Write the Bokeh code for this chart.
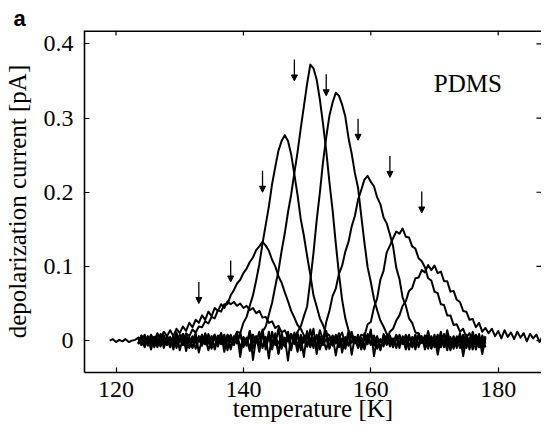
from bokeh.plotting import figure
from bokeh.models import (ColumnDataSource, FixedTicker, Label, Arrow, NormalHead)
from bokeh.embed import file_html
from bokeh.resources import INLINE

# ---------------- data ----------------
grid_temps = [123.5 + 0.5 * i for i in range(110)]      # 123.5 ... 178.0 K
lead_temps = [119.0 + 0.5 * i for i in range(9)]        # 119.0 ... 123.0 K (first run only)
tail_temps = [178.5 + 0.5 * i for i in range(20)]       # 178.5 ... 188.0 K (last run only)

lead_current = [.000, .002, -.002, .001, -.001, .002, -.002, .000, .001]

run_133 = [
    .004, -.005, .007, -.002, .008, .000, .010, .002, .012, .006,
    .014, .006, .016, .010, .019, .013, .024, .018, .028, .024,
    .034, .028, .039, .033, .044, .040, .049, .044, .053, .049,
    .052, .047, .050, .044, .047, .041, .044, .037, .040, .031,
    .032, .024, .026, .017, .020, .011, .014, .004, .009, .000,
    .004, -.006, .005, -.008, .003, -.010, .006, -.004, .002, -.012,
    .004, -.007, .008, -.005, .002, -.011, .006, -.003, .004, -.009,
    .003, -.012, .005, -.006, .007, -.010, .001, -.008, .006, -.004,
    .002, -.009, .008, -.005, .004, -.012, .005, -.007, .009, -.003,
    .003, -.011, .006, -.004, .008, -.009, .002, -.013, .005, -.006,
    .004, -.010, .007, -.008, .003, -.012, .006, -.005, .001, -.009,
]
run_138 = [
    -.004, .006, -.009, .003, -.012, .005, -.003, .008, -.010, .002,
    -.006, .004, -.002, .007, .001, .010, .006, .015, .011, .019,
    .018, .026, .023, .032, .030, .041, .039, .049, .049, .061,
    .068, .077, .082, .091, .097, .106, .112, .122, .127, .133,
    .128, .121, .109, .100, .087, .078, .065, .053, .040, .031,
    .021, .016, .007, .006, -.004, .003, -.008, .004, -.006, .002,
    -.010, .005, -.004, .007, -.009, .002, -.006, .008, -.003, .004,
    -.011, .006, -.002, .009, -.007, .003, -.012, .005, -.004, .007,
    -.008, .004, -.010, .006, -.003, .008, -.009, .002, -.005, .006,
    -.012, .003, -.006, .008, -.010, .004, -.003, .009, -.008, .001,
    -.007, .006, -.011, .003, -.005, .008, -.009, .002, -.004, .005,
]
run_143 = [
    .005, -.003, .006, -.007, .002, -.004, .008, -.002, .004, -.006,
    .003, -.012, .006, -.002, .009, -.014, .002, -.009, .005, -.001,
    .006, -.004, .003, -.008, .007, -.002, .005, -.007, .008, .004,
    .002, .012, .010, .024, .032, .047, .061, .081, .103, .131,
    .156, .181, .211, .234, .256, .269, .277, .269, .251, .224,
    .196, .164, .141, .114, .089, .061, .046, .030, .021, .010,
    .007, -.004, .006, -.009, .003, -.006, .008, -.002, .005, -.010,
    .004, -.007, .009, -.003, .006, -.011, .002, -.005, .007, -.008,
    .003, -.010, .006, -.004, .008, -.007, .001, -.012, .005, -.003,
    .007, -.006, .004, -.009, .002, -.004, .009, -.008, .003, -.011,
    .006, -.003, .008, -.010, .004, -.006, .002, -.009, .007, -.004,
]
run_148 = [
    -.003, .006, -.005, .004, -.008, .002, -.004, .007, -.002, .005,
    -.007, .003, -.004, .008, -.001, .005, -.009, .002, -.003, .006,
    -.005, .004, -.013, .002, .008, -.003, .010, -.015, .003, -.009,
    .005, -.002, .008, -.006, .004, -.010, .006, -.003, .003, .012,
    .019, .035, .051, .073, .094, .121, .145, .173, .197, .226,
    .254, .286, .316, .346, .372, .367, .352, .325, .292, .256,
    .214, .176, .131, .090, .055, .030, .014, .006, -.003, .005,
    -.008, .003, -.005, .009, -.002, .006, -.011, .004, -.006, .002,
    -.009, .007, -.003, .005, -.012, .003, -.004, .008, -.007, .001,
    -.005, .009, -.010, .004, -.002, .006, -.008, .003, -.011, .005,
    -.004, .007, -.021, .002, -.006, .012, -.003, .005, -.018, .004,
]
run_153 = [
    .004, -.006, .003, -.002, .007, -.005, .002, -.008, .006, -.003,
    .005, -.004, .011, -.013, .003, -.009, .004, -.002, .010, -.016,
    .002, -.005, .009, -.003, .004, -.008, .006, -.004, .007, -.002,
    -.006, .005, -.009, .003, -.004, .008, -.011, .004, -.006, .009,
    -.003, .006, -.012, .005, -.004, .007, -.008, .003, .006, .004,
    .012, .019, .033, .046, .081, .118, .162, .199, .241, .274,
    .303, .321, .334, .330, .318, .302, .273, .252, .226, .206,
    .168, .132, .099, .079, .056, .041, .027, .019, .009, .006,
    -.004, .008, -.006, .003, -.010, .005, -.002, .007, -.009, .004,
    -.006, .013, -.003, .005, -.019, .002, -.007, .014, -.004, .003,
    -.010, .006, -.002, .008, -.007, .004, -.012, .005, -.003, .006,
]
run_158 = [
    -.005, .004, -.008, .006, -.002, .005, -.009, .003, -.004, .007,
    -.003, .006, -.010, .004, -.006, .008, -.002, .005, -.011, .003,
    -.007, .009, -.004, .006, -.012, .002, -.005, .008, -.009, .004,
    -.003, .010, -.022, .005, -.006, .013, -.026, .004, -.008, .015,
    -.012, .006, -.004, .010, -.018, .003, -.007, .012, -.010, .005,
    -.015, .008, -.003, .011, -.009, .004, -.006, .014, .001, .025,
    .040, .060, .070, .090, .101, .120, .133, .154, .168, .190,
    .203, .217, .222, .214, .208, .193, .184, .166, .158, .143,
    .127, .098, .083, .058, .047, .030, .024, .011, .010, .001,
    -.006, .008, -.011, .005, -.004, .012, -.009, .003, -.013, .006,
    -.005, .010, -.008, .002, -.012, .007, -.004, .009, -.010, .003,
]
run_163 = [
    .003, -.006, .008, -.004, .005, -.009, .002, -.003, .007, -.005,
    .004, -.008, .006, -.002, .009, -.006, .003, -.010, .005, -.001,
    .008, -.005, .002, -.011, .006, -.003, .010, -.007, .004, -.012,
    .006, -.004, .011, -.009, .003, -.014, .008, -.002, .012, -.010,
    .005, -.024, .012, -.006, .016, -.011, .004, -.027, .009, -.005,
    .011, -.013, .006, -.008, .015, -.004, .008, -.012, .003, .010,
    -.009, .006, -.020, .004, .011, -.006, .013, -.019, .005, -.002,
    .008, .006, .022, .025, .045, .057, .082, .094, .119, .128,
    .138, .147, .144, .151, .140, .139, .127, .124, .111, .107,
    .099, .084, .081, .066, .064, .049, .048, .034, .034, .021,
    .022, .012, .016, .004, .010, -.002, .008, -.006, .004, -.009,
]
run_168 = [
    -.004, .007, -.002, .005, -.008, .003, -.005, .009, -.003, .002,
    -.009, .005, -.003, .007, -.006, .002, -.010, .006, -.001, .004,
    -.006, .010, -.004, .003, -.009, .007, -.002, .005, -.013, .008,
    -.005, .009, -.012, .004, -.007, .013, -.003, .006, -.015, .009,
    -.008, .012, -.004, .007, -.017, .010, -.006, .004, -.013, .011,
    -.007, .005, -.022, .013, -.002, .016, -.018, .006, -.005, .013,
    -.011, .007, -.003, .010, -.016, .005, -.007, .012, -.004, .008,
    -.012, .010, -.002, .015, -.021, .004, -.013, .009, .000, .012,
    .016, .027, .034, .047, .053, .067, .071, .084, .085, .095,
    .092, .102, .095, .101, .091, .093, .080, .080, .066, .067,
    .055, .052, .040, .039, .028, .029, .018, .024, .012, .017,
]
tail_current = [.010, .016, .006, .013, .003, .014, .005, .011, .002, .012,
                .004, .010, -.001, .009, .003, .008, -.002, .007, .001, .005]

arrow_temps = [133, 138, 143, 148, 153, 158, 163, 168]
arrow_tips = [0.050, 0.079, 0.200, 0.350, 0.330, 0.270, 0.220, 0.172]

x_ticks = [120, 140, 160, 180]
y_ticks = [0, 0.1, 0.2, 0.3, 0.4]

# ---------------- figure ----------------
SERIF = "Liberation Serif"

p = figure(width=541, height=424, x_range=(115.05, 186.8), y_range=(-0.043, 0.418),
           output_backend="svg", toolbar_location=None, title="a",
           min_border_left=83, min_border_right=0, min_border_top=30, min_border_bottom=0)
p.title.text_font = "Liberation Sans"
p.title.text_font_style = "bold"
p.title.text_font_size = "22px"
p.title.text_color = "black"
p.title.align = "left"
p.title.offset = -71
p.title.standoff = 0

p.outline_line_color = None
p.xgrid.visible = False
p.ygrid.visible = False
p.background_fill_color = "white"
p.border_fill_color = "white"

def style_axis(ax, ticks):
    ax.ticker = FixedTicker(ticks=ticks)
    ax.major_tick_in = 5
    ax.major_tick_out = 0
    ax.minor_tick_line_color = None
    ax.axis_line_width = 1.6
    ax.axis_line_color = "black"
    ax.major_tick_line_color = "black"
    ax.major_tick_line_width = 1.2
    ax.major_label_text_font = SERIF
    ax.major_label_text_font_size = "24px"
    ax.major_label_text_color = "black"
    ax.axis_label_text_font = SERIF
    ax.axis_label_text_font_style = "normal"
    ax.axis_label_text_color = "black"

xa = p.xaxis[0]
style_axis(xa, x_ticks)
xa.axis_label = "temperature [K]"
xa.axis_label_text_font_size = "25px"
xa.major_label_standoff = 9
xa.axis_label_standoff = -5

ya = p.yaxis[0]
style_axis(ya, y_ticks)
ya.axis_label = "depolarization current [pA]"
ya.axis_label_text_font_size = "25px"
ya.major_label_overrides = {0: "0"}
ya.major_label_standoff = 11
ya.axis_label_standoff = 10

runs = [run_133, run_138, run_143, run_148, run_153, run_158, run_163, run_168]
for i, run in enumerate(runs):
    xs = list(grid_temps)
    ys = list(run)
    if i == 0:
        xs = lead_temps + xs
        ys = lead_current + ys
    if i == len(runs) - 1:
        xs = xs + tail_temps
        ys = ys + tail_current
    p.line(xs, ys, line_color="black", line_width=2.0, line_join="round")

# top frame edge with inward ticks, and inward ticks on the right edge
xr0, xr1 = p.x_range.start, p.x_range.end
yr1 = p.y_range.end
p.segment(x0=[xr0], y0=[yr1], x1=[xr1], y1=[yr1], line_color="black", line_width=3.2)
p.segment(x0=x_ticks, y0=[yr1] * len(x_ticks), x1=x_ticks, y1=[yr1 - 0.0068] * len(x_ticks),
          line_color="black", line_width=1.2)
p.segment(x0=[xr1] * len(y_ticks), y0=y_ticks, x1=[xr1 - 0.8] * len(y_ticks), y1=y_ticks,
          line_color="black", line_width=1.2)

arrow_src = ColumnDataSource(dict(t=arrow_temps, tip=arrow_tips,
                                  top=[v + 0.029 for v in arrow_tips]))
p.add_layout(Arrow(end=NormalHead(size=6, fill_color="black", line_color="black", line_width=1),
                   x_start="t", y_start="top", x_end="t", y_end="tip",
                   source=arrow_src, line_color="black", line_width=1.3))

p.add_layout(Label(x=169.9, y=0.347, text="PDMS", text_font=SERIF,
                   text_font_size="25px", text_color="black", text_baseline="alphabetic"))

open("out.html", "w").write(file_html(p, INLINE))
